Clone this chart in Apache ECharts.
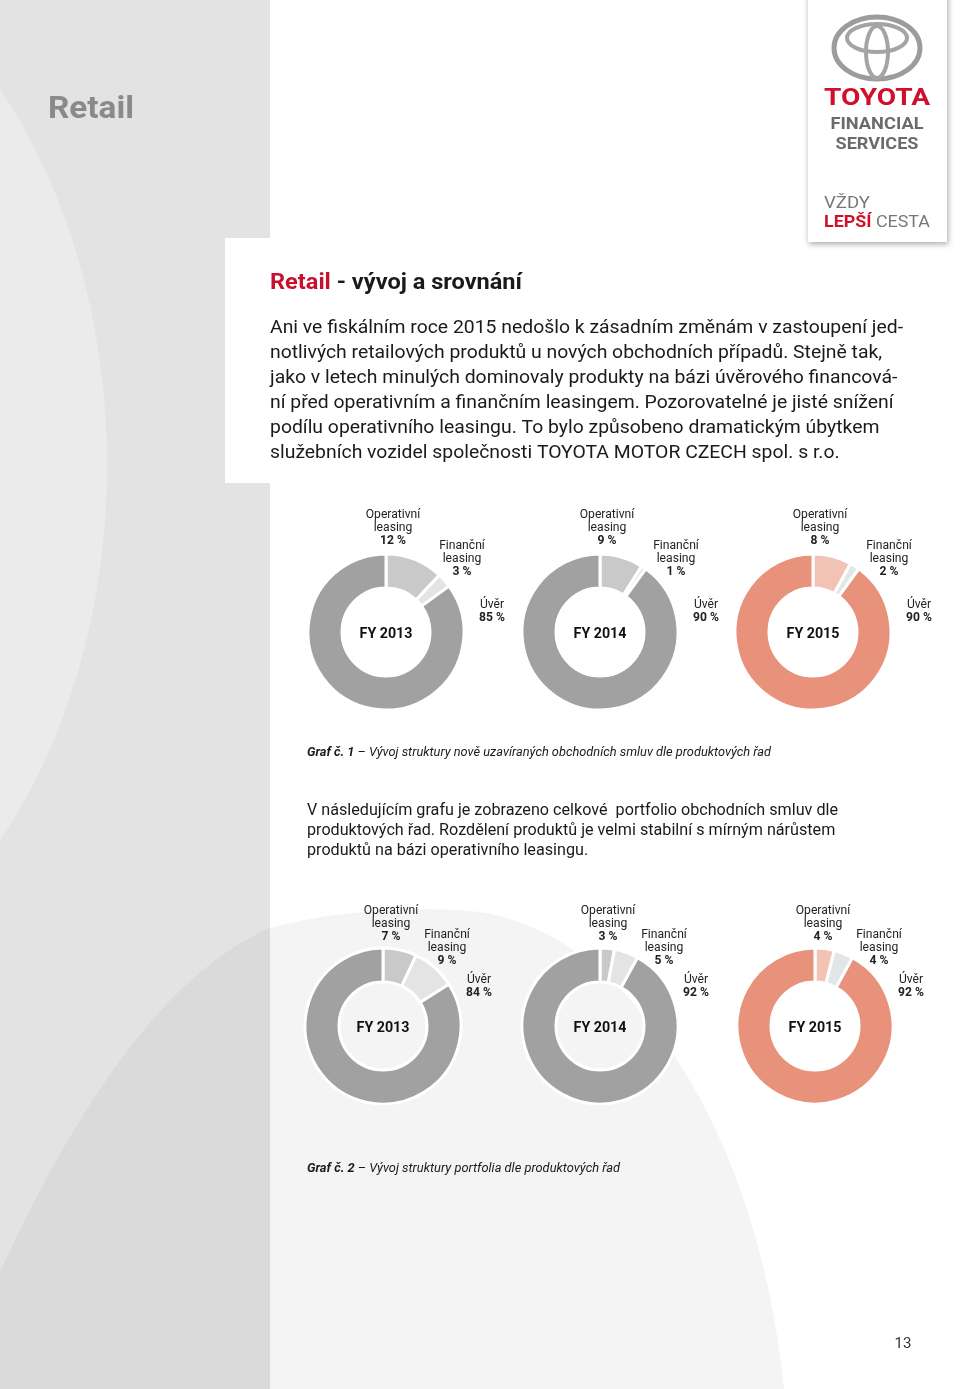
<!DOCTYPE html>
<html><head><meta charset="utf-8">
<script src="https://cdn.jsdelivr.net/npm/echarts@6/dist/echarts.min.js"></script>
<style>html,body{margin:0;padding:0;background:#fff}#c{width:960px;height:1389px}</style>
</head><body><div id="c"></div>
<script>
// ---- data ----
const categories = ['Operativní leasing', 'Finanční leasing', 'Úvěr'];
const years = ['FY 2013', 'FY 2014', 'FY 2015'];
const newFY2013 = [12, 3, 85];
const newFY2014 = [9, 1, 90];
const newFY2015 = [8, 2, 90];
const portFY2013 = [7, 9, 84];
const portFY2014 = [3, 5, 92];
const portFY2015 = [4, 4, 92];

const para1 = [
  'Ani ve fiskálním roce 2015 nedošlo k zásadním změnám v zastoupení jed-',
  'notlivých retailových produktů u nových obchodních případů. Stejně tak,',
  'jako v letech minulých dominovaly produkty na bázi úvěrového financová-',
  'ní před operativním a finančním leasingem. Pozorovatelné je jisté snížení',
  'podílu operativního leasingu. To bylo způsobeno dramatickým úbytkem',
  'služebních vozidel společnosti TOYOTA MOTOR CZECH spol. s r.o.'
];
const para2 = [
  'V následujícím grafu je zobrazeno celkové  portfolio obchodních smluv dle',
  'produktových řad. Rozdělení produktů je velmi stabilní s mírným nárůstem',
  'produktů na bázi operativního leasingu.'
];
const caption1 = ['Graf č. 1', ' – Vývoj struktury nově uzavíraných obchodních smluv dle produktových řad'];
const caption2 = ['Graf č. 2', ' – Vývoj struktury portfolia dle produktových řad'];

// ---- helpers ----
const FF = 'Roboto, "Noto Sans", sans-serif';
const DY = 2;
const mctx = document.createElement('canvas').getContext('2d');
function mw(font, text) { mctx.font = font; return mctx.measureText(text).width; }
function txt(x, y, text, font, fill, opts) {
  opts = opts || {};
  const st = {
    text: text, font: font, fill: fill,
    align: opts.align || 'left', textAlign: opts.align || 'left',
    verticalAlign: 'middle', textVerticalAlign: 'middle'
  };
  if (opts.rich) st.rich = opts.rich;
  return { type: 'text', x: x, y: y + DY, z: opts.z || 20, scaleX: opts.sx || 1, silent: true, style: st };
}
function fitText(x, y, text, font, fill, target, align) {
  const s = target / mw(font, text);
  return txt(x, y, text, font, fill, { sx: s, align: align });
}
function twoPart(x, y, parts, fonts, fills, target) {
  const w0 = mw(fonts[0], parts[0]), w1 = mw(fonts[1], parts[1]);
  const s = target / (w0 + w1);
  return [txt(x, y, parts[0], fonts[0], fills[0], { sx: s }),
          txt(x + w0 * s, y, parts[1], fonts[1], fills[1], { sx: s })];
}
function bez(p0, p1, p2, p3, n) {
  const out = [];
  for (let i = 0; i <= n; i++) {
    const t = i / n, u = 1 - t;
    out.push([u*u*u*p0[0] + 3*u*u*t*p1[0] + 3*u*t*t*p2[0] + t*t*t*p3[0],
              u*u*u*p0[1] + 3*u*u*t*p1[1] + 3*u*t*t*p2[1] + t*t*t*p3[1]]);
  }
  return out;
}

const graphics = [];
// ---- background ----
const seg1 = bez([0, 1272], [70, 1120], [160, 975], [270, 928], 40);
const seg2 = bez([270, 928], [330, 912], [400, 906], [470, 911], 30);
const seg3 = bez([470, 911], [620, 925], [760, 1120], [785, 1400], 50);
graphics.push({ type: 'polygon', z: 1, silent: true,
  shape: { points: seg1.concat(seg2, seg3, [[0, 1400]]) }, style: { fill: '#f4f4f4' } });
graphics.push({ type: 'rect', z: 2, silent: true, shape: { x: 0, y: 0, width: 270, height: 1389 }, style: { fill: '#e3e3e3' } });
graphics.push({ type: 'ellipse', z: 3, silent: true, shape: { cx: -300, cy: 465, rx: 407, ry: 556 }, style: { fill: '#ebebeb' } });
graphics.push({ type: 'polygon', z: 3, silent: true,
  shape: { points: seg1.concat([[270, 1400], [0, 1400]]) }, style: { fill: '#dadada' } });
graphics.push({ type: 'rect', z: 4, silent: true, shape: { x: 225, y: 238, width: 46, height: 245 }, style: { fill: '#ffffff' } });

// logo box
graphics.push({ type: 'rect', z: 5, silent: true, shape: { x: 808, y: -10, width: 139, height: 252 },
  style: { fill: '#ffffff', shadowBlur: 6, shadowOffsetX: 1, shadowOffsetY: 2, shadowColor: 'rgba(0,0,0,0.35)' } });
graphics.push({ type: 'ellipse', z: 6, silent: true, shape: { cx: 877, cy: 48, rx: 43, ry: 31 }, style: { fill: null, stroke: '#9c9c9c', lineWidth: 5 } });
graphics.push({ type: 'ellipse', z: 6, silent: true, shape: { cx: 877, cy: 38, rx: 30, ry: 14 }, style: { fill: null, stroke: '#a4a4a4', lineWidth: 4 } });
graphics.push({ type: 'ellipse', z: 6, silent: true, shape: { cx: 877, cy: 52, rx: 11, ry: 26 }, style: { fill: null, stroke: '#a4a4a4', lineWidth: 4 } });
graphics.push(fitText(877, 97, 'TOYOTA', 'bold 24px ' + FF, '#d0102a', 106, 'center'));
graphics.push(fitText(877, 123, 'FINANCIAL', 'bold 17px ' + FF, '#6b6b6b', 93, 'center'));
graphics.push(fitText(877, 143, 'SERVICES', 'bold 17px ' + FF, '#6b6b6b', 83, 'center'));
graphics.push(fitText(824, 202, 'VŽDY', '17px ' + FF, '#777777', 46));
graphics.push(...twoPart(824, 221, ['LEPŠÍ', ' CESTA'], ['bold 17px ' + FF, '17px ' + FF], ['#d0102a', '#777777'], 106));

// ---- texts ----
graphics.push(fitText(48, 108, 'Retail', 'bold 31px ' + FF, '#8a8a8a', 86));
graphics.push(...twoPart(270, 281, ['Retail', ' - vývoj a srovnání'], ['bold 22px ' + FF, 'bold 22px ' + FF], ['#c8102e', '#1a1a1a'], 252));
const p1font = '19px ' + FF;
const p1s = 633 / mw(p1font, para1[0]);
para1.forEach((l, i) => graphics.push(txt(270, 326 + i * 25, l, p1font, '#1a1a1a', { sx: p1s })));
const p2font = '17px ' + FF;
const p2s = 531 / mw(p2font, para2[0]);
para2.forEach((l, i) => graphics.push(txt(307, 809 + i * 20, l, p2font, '#1a1a1a', { sx: p2s })));
graphics.push(...twoPart(307, 751, caption1, ['italic bold 13.5px ' + FF, 'italic 13.5px ' + FF], ['#1a1a1a', '#1a1a1a'], 464));
graphics.push(...twoPart(307, 1167, caption2, ['italic bold 13.5px ' + FF, 'italic 13.5px ' + FF], ['#1a1a1a', '#1a1a1a'], 313));
graphics.push(txt(903, 1342, '13', '15px ' + FF, '#333333', { align: 'center' }));

// ---- donuts ----
const grayColors = ['#c9c9c9', '#e4e4e4', '#a1a1a1'];
const redColors = ['#f2c2b4', '#e3e6e8', '#e8917b'];
const rows = [
  { cy: 632, cxs: [386, 600, 813], sets: [newFY2013, newFY2014, newFY2015],
    offs: [[7, -106], [76, -75], [106, -23]] },
  { cy: 1026, cxs: [383, 600, 815], sets: [portFY2013, portFY2014, portFY2015],
    offs: [[8, -104], [64, -80], [96, -42]] }
];
const richStyle = {
  n: { fontSize: 12.5, fontFamily: FF, color: '#222222', lineHeight: 13 },
  b: { fontSize: 12.5, fontFamily: FF, fontWeight: 'bold', color: '#111111', lineHeight: 13 }
};
const series = [];
rows.forEach(row => {
  row.sets.forEach((vals, k) => {
    const cx = row.cxs[k];
    series.push({
      type: 'pie', silent: true, animation: false,
      center: [cx, row.cy], radius: [44, 78], startAngle: 90, clockwise: true,
      label: { show: false }, labelLine: { show: false },
      itemStyle: { borderColor: '#ffffff', borderWidth: 3 },
      data: vals.map((v, i) => ({ value: v, name: categories[i],
        itemStyle: { color: (k === 2 ? redColors : grayColors)[i] } }))
    });
    graphics.push(txt(cx, row.cy, years[k], 'bold 15px ' + FF, '#111111', { align: 'center', sx: 0.95 }));
    vals.forEach((v, i) => {
      const lines = categories[i].split(' ').map(s => '{n|' + s + '}');
      lines.push('{b|' + v + ' %}');
      graphics.push(txt(cx + row.offs[i][0], row.cy + row.offs[i][1], lines.join('\n'), '12.5px ' + FF, '#222222',
        { align: 'center', rich: richStyle, sx: 0.97 }));
    });
  });
});

const chart = echarts.init(document.getElementById('c'), null, { renderer: 'canvas' });
chart.setOption({ animation: false, backgroundColor: '#ffffff', graphic: { elements: graphics }, series: series });
</script>
</body></html>
